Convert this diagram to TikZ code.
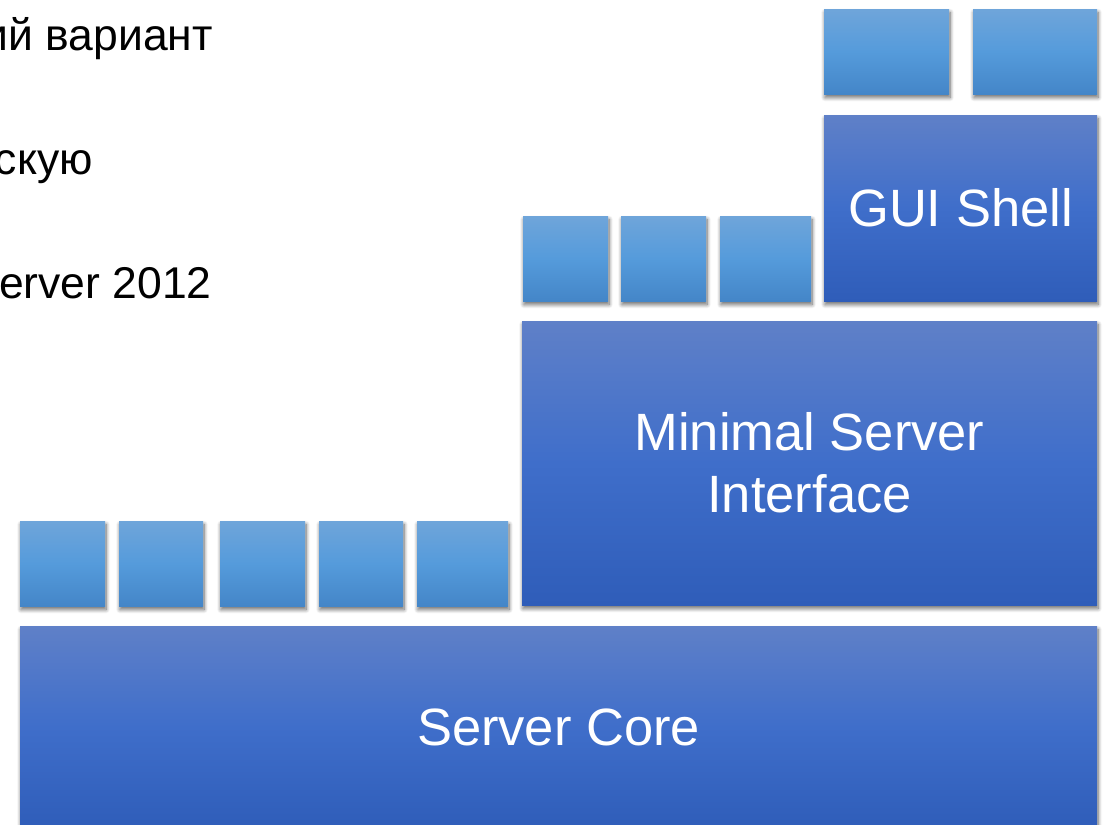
\documentclass[tikz,border=0pt]{standalone}
\usepackage{fontspec}
\setmainfont{Liberation Sans}
\usetikzlibrary{shadows.blur}
\definecolor{bigtop}{HTML}{5F80C8}
\definecolor{bigmid}{HTML}{3F6ECA}
\definecolor{bigbot}{HTML}{2F5DB9}
\definecolor{smtop}{HTML}{6FA5DA}
\definecolor{smmid}{HTML}{559BDB}
\definecolor{smbot}{HTML}{4486C8}
\tikzset{
  shadowed/.style={blur shadow={shadow xshift=1pt, shadow yshift=-3.5pt, shadow blur steps=8, shadow blur radius=4pt, shadow opacity=60}},
  bigbox/.style={rectangle, inner sep=0pt, outer sep=0pt, top color=bigtop, bottom color=bigbot, middle color=bigmid, shadowed, text=white, font=\fontsize{52.5}{62}\selectfont, align=center},
  smallbox/.style={rectangle, inner sep=0pt, outer sep=0pt, top color=smtop, bottom color=smbot, middle color=smmid, shadowed},
  sidetext/.style={anchor=base east, inner sep=0pt, font=\fontsize{44.5}{52}\selectfont, text=black}
}
\begin{document}
\begin{tikzpicture}[x=1pt, y=-1pt]
\useasboundingbox (0,0) rectangle (1112,825);
% left text (cut by page edge, as in the reference)
\node[sidetext] (t1) at (213,50) {ий вариант};
\node[sidetext] (t2) at (93,174) {скую};
\node[sidetext] (t3) at (212,298) {erver 2012};
% Server Core
\node[bigbox, minimum width=1077pt, minimum height=202pt] (core) at (558.5,727) {Server Core};
% bottom small boxes
\node[smallbox, minimum width=85pt, minimum height=85pt] (b1) at (62.5,563.5) {};
\node[smallbox, minimum width=84pt, minimum height=85pt] (b2) at (161,563.5) {};
\node[smallbox, minimum width=85pt, minimum height=85pt] (b3) at (262.5,563.5) {};
\node[smallbox, minimum width=84pt, minimum height=85pt] (b4) at (361,563.5) {};
\node[smallbox, minimum width=91pt, minimum height=85pt] (b5) at (462.5,563.5) {};
% Minimal Server Interface
\node[bigbox, minimum width=575pt, minimum height=284pt] (msi) at (809.5,463) {Minimal Server\\Interface};
% middle small boxes
\node[smallbox, minimum width=85pt, minimum height=85pt] (m1) at (565.5,258.5) {};
\node[smallbox, minimum width=85pt, minimum height=85pt] (m2) at (663.5,258.5) {};
\node[smallbox, minimum width=91pt, minimum height=85pt] (m3) at (765.5,258.5) {};
% GUI Shell
\node[bigbox, minimum width=273pt, minimum height=186pt] (gui) at (960.5,208) {GUI Shell};
% top small boxes
\node[smallbox, minimum width=125pt, minimum height=85pt] (g1) at (886.5,51.5) {};
\node[smallbox, minimum width=124pt, minimum height=85pt] (g2) at (1035,51.5) {};
\end{tikzpicture}
\end{document}
